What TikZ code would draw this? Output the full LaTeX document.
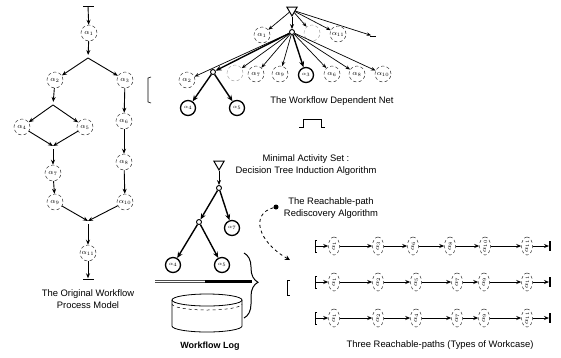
\documentclass[tikz,border=0pt]{standalone}
\usepackage{fontspec}
\setmainfont{Liberation Sans}
\usetikzlibrary{arrows.meta,shapes.geometric,decorations.pathreplacing}

\begin{document}
\begin{tikzpicture}[x=1pt,y=-1pt,
  flow/.style={-{Stealth[length=5pt,width=4pt]}, line width=0.9pt},
  thinflow/.style={-{Stealth[length=4.5pt,width=3.5pt]}, line width=0.7pt},
  boldflow/.style={-{Stealth[length=6pt,width=5pt]}, line width=1.4pt},
  act/.style={circle, draw=black!80, dash pattern=on 3.2pt off 2.4pt, line width=0.5pt,
    minimum size=16pt, inner sep=0pt, font=\scriptsize},
  ghost/.style={act, draw=black!35},
  pathact/.style={ellipse, draw=black!80, dash pattern=on 3pt off 2.4pt, line width=0.5pt,
    minimum width=18pt, minimum height=11pt, inner sep=0pt, rotate=90, font=\scriptsize},
  key/.style={circle, draw, line width=1.3pt, minimum size=15pt, inner sep=0pt, font=\tiny},
  hub/.style={circle, draw, line width=0.9pt, minimum size=5pt, inner sep=0pt},
  root/.style={regular polygon, regular polygon sides=3, shape border rotate=180, draw,
    line width=1pt, minimum size=12pt, inner sep=0pt},
  bar/.style={rectangle, fill=black, minimum width=11pt, minimum height=1pt, inner sep=0pt},
  endbar/.style={rectangle, fill=black, minimum width=1.6pt, minimum height=10pt, inner sep=0pt},
  ttl/.style={font=\fontsize{9.4}{12}\selectfont, align=center, inner sep=0pt},
]
\useasboundingbox (0,0) rectangle (561,357);

% ---------------- original workflow process model ----------------
\node[bar] (lstart) at (88,6) {};
\node[act] (a1) at (89,33) {$\alpha_1$};
\coordinate (s1) at (88,58);
\node[act] (a2) at (55,80) {$\alpha_2$};
\node[act] (a3) at (125,80) {$\alpha_3$};
\coordinate (s2) at (53,105);
\node[act] (a4) at (22,127) {$\alpha_4$};
\node[act] (a5) at (85,127) {$\alpha_5$};
\coordinate (j1) at (53,146);
\node[act] (a7) at (53,173) {$\alpha_7$};
\node[act] (a9) at (55,202) {$\alpha_9$};
\node[act] (a6) at (124,121) {$\alpha_6$};
\node[act] (a8) at (124,162) {$\alpha_8$};
\node[act] (a10) at (125,202) {$\alpha_{10}$};
\coordinate (j2) at (88,221);
\node[act] (a11) at (88,253) {$\alpha_{11}$};
\node[bar] (lend) at (88,279) {};

\draw[flow] (lstart) -- (a1);
\draw[flow, shorten >=3pt] (a1) -- (s1);
\draw[flow] (s1) -- (a2);
\draw[flow] (s1) -- (a3);
\draw[flow, shorten >=3pt] (a2) -- (s2);
\draw[flow] (s2) -- (a4);
\draw[flow] (s2) -- (a5);
\draw[flow] (a4) -- (j1);
\draw[flow] (a5) -- (j1);
\draw[flow, shorten <=3pt] (j1) -- (a7);
\draw[flow] (a7) -- (a9);
\draw[flow] (a3) -- (a6);
\draw[flow] (a6) -- (a8);
\draw[flow] (a8) -- (a10);
\draw[flow] (a9) -- (j2);
\draw[flow] (a10) -- (j2);
\draw[flow, shorten <=3pt] (j2) -- (a11);
\draw[flow] (a11) -- (lend);

\node[ttl] (lcap) at (88,299) {The Original Workflow\\Process Model};

% ---------------- workflow dependent net ----------------
\node[root] (tri) at (292,10) {};
\node[hub] (c0) at (292,32) {};
\node[act] (na1) at (262,35) {$\alpha_1$};
\node[ghost] (nb) at (312,33) {};
\node[act] (na11) at (338,34) {$\alpha_{11}$};
\node[bar, minimum width=6pt, minimum height=0.8pt] (nd) at (373,36) {};

\draw[flow] (tri) -- (c0);
\draw[thinflow] (tri) -- (na1);
\draw[thinflow] (tri) -- (nb);
\draw[thinflow] (tri) -- (na11);
\draw[thinflow] (tri) -- (nd);

\node[act] (na2) at (187,80) {$\alpha_2$};
\node[hub] (c1) at (213,72) {};
\node[ghost] (nb2) at (235,73) {};
\node[act] (na7) at (256,74) {$\alpha_7$};
\node[act] (na9) at (280,74) {$\alpha_9$};
\node[key] (na3) at (306,75) {$\alpha_3$};
\node[act] (na6) at (332,74) {$\alpha_6$};
\node[act] (na8) at (357,74) {$\alpha_8$};
\node[act] (na10) at (383,74) {$\alpha_{10}$};
\node[key] (na4) at (188,108) {$\alpha_4$};
\node[key] (na5) at (237,108) {$\alpha_5$};

\draw[thinflow] (c0) -- (na2);
\draw[boldflow] (c0) -- (c1);
\foreach \n in {nb2,na7,na9,na6,na8,na10} \draw[thinflow] (c0) -- (\n);
\draw[boldflow] (c0) -- (na3);
\draw[boldflow] (c1) -- (na4);
\draw[boldflow] (c1) -- (na5);

\node[ttl] (ncap) at (332,101) {The Workflow Dependent Net};

% small bracket left of the net and the step mark below it
\draw[line width=0.6pt] (151,77) -- (148,78) -- (148,102) -- (151,103);
\draw[line width=0.6pt] (299,127) -- (303,127) -- (303,119) -- (321,119) -- (321,127) -- (325,127);

% ---------------- decision tree induction ----------------
\node[ttl] (mcap) at (306,165) {Minimal Activity Set :\\Decision Tree Induction Algorithm};

\node[root] (tri2) at (219,164) {};
\node[hub] (c2) at (219,188) {};
\node[hub] (c3) at (199,222) {};
\node[key] (ta7) at (232,228) {$\alpha_7$};
\node[key] (ta4) at (173,265) {$\alpha_4$};
\node[key] (ta5) at (222,265) {$\alpha_5$};
\draw[flow] (tri2) -- (c2);
\draw[boldflow] (c2) -- (c3);
\draw[boldflow] (c2) -- (ta7);
\draw[boldflow] (c3) -- (ta4);
\draw[boldflow] (c3) -- (ta5);

% ---------------- reachable-path rediscovery ----------------
\node[ttl] (rcap) at (331,208) {The Reachable-path\\Rediscovery Algorithm};
\node[circle, fill, minimum size=5pt, inner sep=0pt] (dot) at (276,207) {};
\coordinate (dtip) at (290,260);
\draw[dashed, line width=0.8pt, -{Stealth[length=5pt,width=5pt]}]
  (dot) .. controls (250,214) and (258,242) .. (dtip);

% ---------------- workflow log ----------------
\draw[line width=0.5pt, black!70] (155,280) -- (252,280);
\draw[line width=0.5pt, black!70] (155,282.5) -- (252,282.5);
\draw[line width=2.6pt] (205,281.2) -- (252,281.2);

\coordinate (cyl) at (207,300);
\draw[line width=0.8pt] (172,300) -- (172,326) arc[start angle=180, end angle=360, x radius=35pt, y radius=6pt] -- (242,300);
\draw[line width=0.8pt] (cyl) ellipse[x radius=35pt, y radius=6pt];
\draw[line width=0.5pt, dashed] (172,304) arc[start angle=180, end angle=360, x radius=35pt, y radius=6pt];
\node[font=\fontsize{9}{11}\selectfont\bfseries, inner sep=0pt] (logcap) at (210,346) {Workflow Log};

\draw[decorate, decoration={brace, amplitude=14pt, aspect=0.45}, line width=1pt]
  (244,253) -- (244,318);
\draw[line width=0.6pt] (290,280) -- (287,280) -- (287,295) -- (290,295);

% ---------------- three reachable paths ----------------
\foreach \yy in {246,282,318} {
  \draw[line width=0.6pt] (317,\yy-6) -- (315,\yy-6) -- (315,\yy+6) -- (317,\yy+6);
}
\coordinate (r1s) at (316,246);
\node[pathact] (r1n1) at (334,246) {$\alpha_1$};
\node[pathact] (r1n2) at (378,246) {$\alpha_3$};
\node[pathact] (r1n3) at (413,246) {$\alpha_6$};
\node[pathact] (r1n4) at (450,246) {$\alpha_8$};
\node[pathact] (r1n5) at (485,246) {$\alpha_{10}$};
\node[pathact] (r1n6) at (527,246) {$\alpha_{11}$};
\node[endbar] (r1e) at (550,246) {};

\coordinate (r2s) at (316,282);
\node[pathact] (r2n1) at (334,282) {$\alpha_1$};
\node[pathact] (r2n2) at (378,282) {$\alpha_2$};
\node[pathact] (r2n3) at (416,282) {$\alpha_5$};
\node[pathact] (r2n4) at (457,282) {$\alpha_7$};
\node[pathact] (r2n5) at (484,282) {$\alpha_9$};
\node[pathact] (r2n6) at (527,282) {$\alpha_{11}$};
\node[endbar] (r2e) at (550,282) {};

\coordinate (r3s) at (316,318);
\node[pathact] (r3n1) at (334,318) {$\alpha_1$};
\node[pathact] (r3n2) at (378,318) {$\alpha_2$};
\node[pathact] (r3n3) at (416,318) {$\alpha_4$};
\node[pathact] (r3n4) at (457,318) {$\alpha_7$};
\node[pathact] (r3n5) at (484,318) {$\alpha_9$};
\node[pathact] (r3n6) at (527,318) {$\alpha_{11}$};
\node[endbar] (r3e) at (550,318) {};

\foreach \r in {1,2,3} {
  \draw[flow] (r\r s) -- (r\r n1);
  \draw[flow] (r\r n1) -- (r\r n2);
  \draw[flow] (r\r n2) -- (r\r n3);
  \draw[flow] (r\r n3) -- (r\r n4);
  \draw[flow] (r\r n4) -- (r\r n5);
  \draw[flow] (r\r n5) -- (r\r n6);
  \draw[flow] (r\r n6) -- (r\r e);
}

\node[ttl] (pcap) at (440,345) {Three Reachable-paths (Types of Workcase)};
\end{tikzpicture}
\end{document}
